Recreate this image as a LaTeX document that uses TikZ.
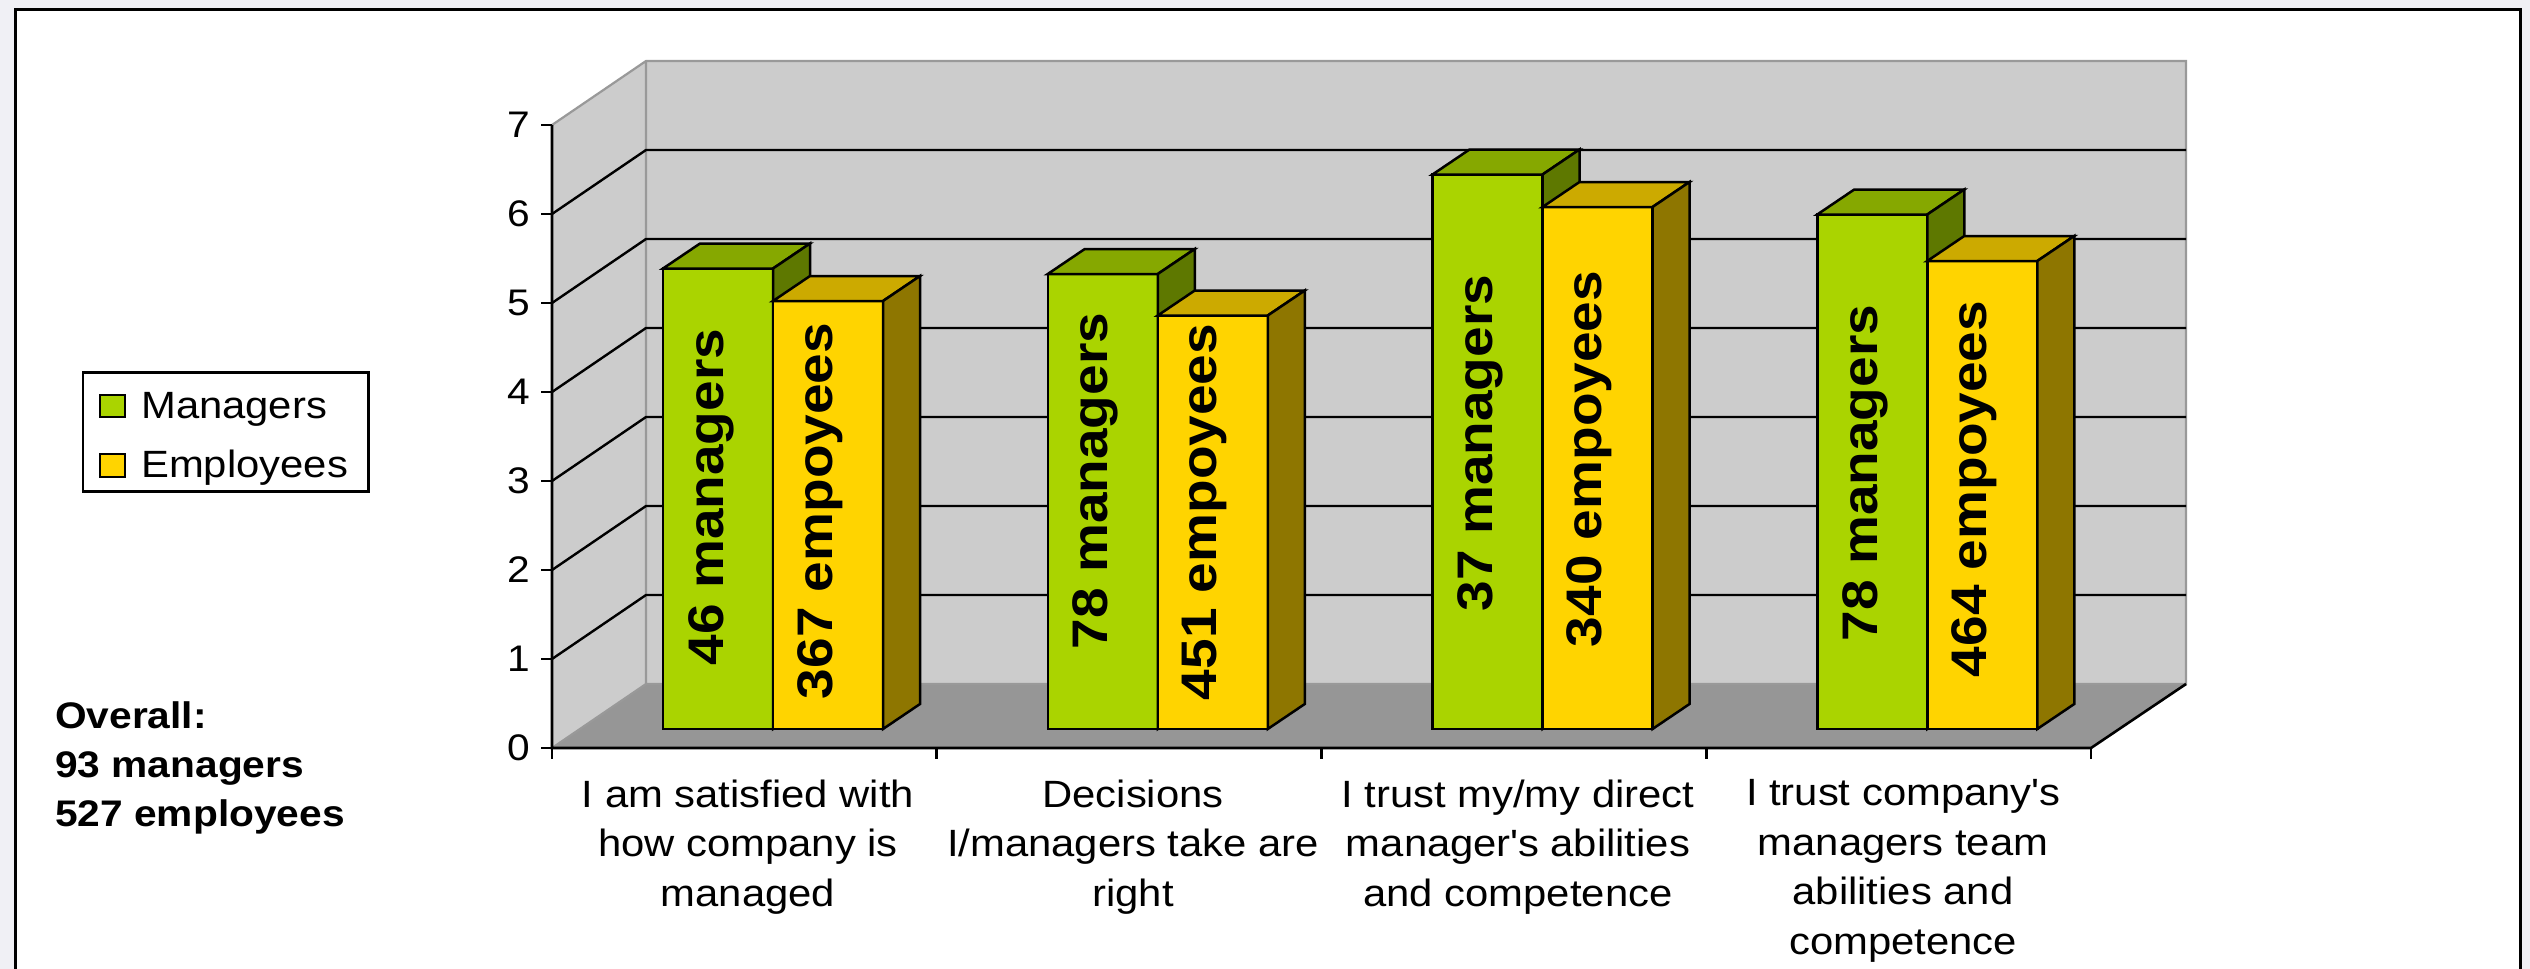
\documentclass[tikz,border=0pt]{standalone}
\usepackage{fontspec}
\setmainfont{Liberation Sans}[FakeStretch=1.1]
\definecolor{bg}{HTML}{F0F0F5}
\definecolor{gfront}{HTML}{AAD400}
\definecolor{gtop}{HTML}{86A800}
\definecolor{gside}{HTML}{5E7800}
\definecolor{yfront}{HTML}{FFD400}
\definecolor{ytop}{HTML}{CCAA00}
\definecolor{yside}{HTML}{8E7600}
\definecolor{wallc}{HTML}{CCCCCC}
\definecolor{floorc}{HTML}{969696}
\definecolor{edgec}{HTML}{999999}
\newcommand{\mybar}[6]{%
  \filldraw[barline,fill=#4] (#1,729) -- (#2,729) -- (#2,#3) -- (#1,#3) -- cycle;
  \filldraw[barline,fill=#5] (#1,#3) -- (#2,#3) -- (#2+37,#3-25) -- (#1+37,#3-25) -- cycle;
  \filldraw[barline,fill=#6] (#2,729) -- (#2+37,704) -- (#2+37,#3-25) -- (#2,#3) -- cycle;
}
\tikzset{
  barline/.style={draw=black,line width=2.5pt,line join=miter},
  grid/.style={draw=black,line width=2.4pt},
  wedge/.style={draw=edgec,line width=2.2pt},
  axisline/.style={draw=black,line width=2.6pt},
  ylab/.style={anchor=east,inner sep=0pt,font=\fontsize{37}{37}\selectfont},
  catlab/.style={anchor=north,inner sep=0pt,align=center,font=\fontsize{38}{49.5}\selectfont},
  barlab/.style={rotate=90,inner sep=0pt,font=\bfseries\fontsize{50}{50}\selectfont},
  leglab/.style={anchor=base west,inner sep=0pt,font=\fontsize{38}{38}\selectfont},
  sumlab/.style={anchor=base west,inner sep=0pt,font=\bfseries\fontsize{37}{37}\selectfont},
  swatch/.style={draw=black,line width=2pt}
}
\begin{document}
\begin{tikzpicture}[x=1pt,y=-1pt]
\useasboundingbox (0,0) rectangle (2530,969);
\clip (0,0) rectangle (2530,969);
\fill[bg] (0,0) rectangle (2530,969);
% outer frame
\filldraw[fill=white,draw=black,line width=3pt] (15,9) rectangle (2520,1100);
% floor
\fill[floorc] (552,748) -- (2091,748) -- (2186,684) -- (646,684) -- cycle;
% back wall
\fill[wallc] (646,61) rectangle (2186,684);
% side wall
\fill[wallc] (552,748) -- (552,125) -- (646,61) -- (646,684) -- cycle;
% wall edges
\draw[wedge] (552,125) -- (646,61) -- (2186,61) -- (2186,684) -- (646,684) -- (646,61);
\draw[wedge] (552,748) -- (646,684);
% gridlines
\foreach \v in {1,...,6}{
  \draw[grid] (552,748-89*\v) -- (646,684-89*\v) -- (2186,684-89*\v);
}
% axes
\draw[axisline] (552,125) -- (552,748) -- (2091,748) -- (2186,684);
\foreach \v in {0,...,7}{
  \draw[axisline] (541,748-89*\v) -- (552,748-89*\v);
  \node[ylab] (y\v) at (530,748-89*\v) {\v};
}
\foreach \k in {0,...,4}{
  \draw[axisline] (552+384.75*\k,748) -- (552+384.75*\k,759);
}
% bars
\foreach \i/\gt/\yt/\gl/\yl/\gy/\yy in {
  0/268.5/301/46 managers/367 empoyees/497/511,
  1/274/315.5/78 managers/451 empoyees/481/512,
  2/174.5/207/37 managers/340 empoyees/443/459,
  3/214.5/261/78 managers/464 empoyees/473/489}{
  \pgfmathsetmacro\L{663+384.75*\i}
  \pgfmathsetmacro\M{\L+110}
  \pgfmathsetmacro\R{\L+220}
  \mybar{\L}{\M}{\gt}{gfront}{gtop}{gside}
  \mybar{\M}{\R}{\yt}{yfront}{ytop}{yside}
  \node[barlab] (g\i) at (\L+55-7,\gy) {\gl};
  \node[barlab] (e\i) at (\M+55-8,\yy) {\yl};
}
% category labels
\node[catlab] (c1) at (748,779.5) {I am satisfied with\\how company is\\managed};
\node[catlab] (c2) at (1133,779.5) {Decisions\\I/managers take are\\right};
\node[catlab] (c3) at (1518,779.5) {I trust my/my direct\\manager\textquotesingle s abilities\\and competence};
\node[catlab] (c4) at (1903,779.5) {I trust company\textquotesingle s\\managers team\\abilities and\\competence};
% legend
\filldraw[fill=white,draw=black,line width=2.5pt] (83,372.5) rectangle (368.5,491.5);
\filldraw[swatch,fill=gfront] (100,394.7) rectangle (125,417.3);
\filldraw[swatch,fill=yfront] (100,454) rectangle (125,477);
\node[leglab] (lm) at (141,418) {Managers};
\node[leglab] (le) at (141,477) {Employees};
% overall
\node[sumlab] (o1) at (55,728) {Overall:};
\node[sumlab] (o2) at (55,777) {93 managers};
\node[sumlab] (o3) at (55,826) {527 employees};
\end{tikzpicture}
\end{document}
